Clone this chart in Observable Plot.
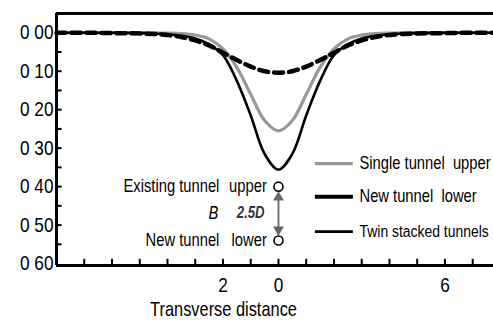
<!DOCTYPE html>
<html>
<head>
<meta charset="utf-8">
<script src="https://cdn.jsdelivr.net/npm/d3@7"></script>
<script src="https://cdn.jsdelivr.net/npm/@observablehq/plot@0.6"></script>
<style>
  html, body { margin: 0; padding: 0; background: #fff; }
  #chart svg { font-family: "Liberation Sans", Arial, sans-serif; overflow: visible; }
</style>
</head>
<body>
<div id="chart"></div>
<script>
// ---- data ----
const xs       = [-8, -7, -6, -5, -4.5, -4, -3.5, -3, -2.5, -2, -1.5, -1, -0.5, 0, 0.5, 1, 1.5, 2, 2.5, 3, 3.5, 4, 4.5, 5, 6, 7, 7.75];
const single   = [0, 0, 0, 0, 0, 0.001, 0.002, 0.006, 0.016, 0.042, 0.090, 0.160, 0.228, 0.255, 0.228, 0.160, 0.090, 0.042, 0.016, 0.006, 0.002, 0.001, 0, 0, 0, 0, 0];
const newLower = [0, 0, 0.001, 0.002, 0.003, 0.006, 0.011, 0.020, 0.033, 0.052, 0.071, 0.088, 0.100, 0.104, 0.100, 0.088, 0.071, 0.052, 0.033, 0.020, 0.011, 0.006, 0.003, 0.002, 0.001, 0, 0];
const twin     = [0, 0, 0, 0.001, 0.002, 0.004, 0.008, 0.015, 0.030, 0.058, 0.125, 0.215, 0.315, 0.356, 0.315, 0.215, 0.125, 0.058, 0.030, 0.015, 0.008, 0.004, 0.002, 0.001, 0, 0, 0];

const seriesNames = ["Single tunnel  upper", "New tunnel  lower", "Twin stacked tunnels"];

const yTickValues = [0, 0.1, 0.2, 0.3, 0.4, 0.5, 0.6];
const yTickLabels = ["0 00", "0 10", "0 20", "0 30", "0 40", "0 50", "0 60"];
const yMinorTicks = [0, 0.05, 0.1, 0.15, 0.2, 0.25, 0.3, 0.35, 0.4, 0.45, 0.5, 0.55];
const xTickValues = [-2, 0, 6];
const xTickLabels = ["2", "0", "6"];
const xMinorTicks = [-7, -6, -5, -4, -3, -2, -1, 0, 1, 2, 3, 4, 5, 6, 7];

// annotation: existing tunnel (upper) and new tunnel (lower) at x = 0
const tunnelNames = ["Existing tunnel", "New tunnel"];
const tunnelTags  = ["upper", "lower"];
const tunnelDepth = [0.40, 0.54];

// ---- build tables ----
const mk = (vals) => xs.map((x, i) => ({x, y: vals[i]}));
const singleData = mk(single), newData = mk(newLower), twinData = mk(twin);

// layout constants (data space of the frame)
const X0 = -8, X1 = 7.75, YTOP = -0.05, YBOT = 0.605;
const legX1 = 1.33, legX2 = 2.70, legTextX = 2.92;
const legY = [0.340, 0.426, 0.517];
const legStyle = [
  {stroke: "#999", strokeWidth: 3.2, dash: null, fs: 18},
  {stroke: "#000", strokeWidth: 4, dash: "11,8", fs: 18},
  {stroke: "#000", strokeWidth: 2.6, dash: null, fs: 17}
];
const legend = seriesNames.map((name, i) => ({name, y: legY[i], ...legStyle[i]}));
const tunnels = tunnelNames.map((n, i) => ({name: n, tag: tunnelTags[i], y: tunnelDepth[i]}));
const arrowHeads = [{y: tunnelDepth[0] + 0.028, rot: 0}, {y: tunnelDepth[1] - 0.028, rot: 180}];

const fontMain = 18;

const chart = Plot.plot({
  width: 493,
  height: 331,
  marginLeft: 56,
  marginRight: 0,
  marginTop: 13,
  marginBottom: 66,
  x: {domain: [X0, X1]},
  y: {domain: [YBOT, YTOP]},
  style: {fontSize: "18px", color: "#000", background: "#fff"},
  marks: [
    // curves
    Plot.line(singleData, {x: "x", y: "y", stroke: "#999", strokeWidth: 3.2, curve: "catmull-rom"}),
    Plot.line(twinData, {x: "x", y: "y", stroke: "#000", strokeWidth: 2.6, curve: "catmull-rom"}),
    Plot.line(newData, {x: "x", y: "y", stroke: "#000", strokeWidth: 4.5, strokeDasharray: "9,6", curve: "catmull-rom"}),

    // frame lines
    Plot.ruleY([YTOP], {stroke: "#000", strokeWidth: 3}),
    Plot.ruleY([YBOT], {stroke: "#000", strokeWidth: 3}),
    Plot.ruleX([X0], {y1: YTOP, y2: YBOT, stroke: "#000", strokeWidth: 3}),

    // inward ticks
    Plot.ruleY(yMinorTicks, {x1: X0, x2: X0 + 0.2, stroke: "#000", strokeWidth: 2}),
    Plot.ruleX(xMinorTicks, {y1: YBOT, y2: YBOT - 0.016, stroke: "#000", strokeWidth: 2}),

    // tick labels
    Plot.axisY({ticks: yTickValues, tickSize: 0, tickPadding: 3, tickFormat: d => yTickLabels[yTickValues.indexOf(d)], fontSize: 21, label: null}),
    Plot.axisX({ticks: xTickValues, tickSize: 0, tickPadding: 12, tickFormat: d => xTickLabels[xTickValues.indexOf(d)], fontSize: 21, label: null}),
    Plot.text(["Transverse distance"], {frameAnchor: "bottom-left", dx: 167, dy: 50, fontSize: 20, textAnchor: "middle"}),

    // annotation
    Plot.link([0], {x1: 0, x2: 0, y1: tunnelDepth[0] + 0.022, y2: tunnelDepth[1] - 0.022, stroke: "#777", strokeWidth: 2}),
    Plot.dot(arrowHeads, {x: 0, y: "y", symbol: "triangle", r: 4, fill: "#666", stroke: "none", rotate: "rot"}),
    Plot.dot(tunnels, {x: 0, y: "y", r: 4.5, stroke: "#000", strokeWidth: 1.6, fill: "#fff"}),
    Plot.text(tunnels, {x: -2.13, y: "y", text: "name", textAnchor: "end", fontSize: fontMain}),
    Plot.text(tunnels, {x: -0.42, y: "y", text: "tag", textAnchor: "end", fontSize: fontMain}),
    Plot.text(["B"], {x: -2.34, y: 0.468, fontSize: fontMain, fontStyle: "italic"}),
    Plot.text(["2.5D"], {x: -1.0, y: 0.468, fontSize: 16, fontStyle: "italic", fontWeight: "bold", fill: "#333"}),

    // legend
    Plot.ruleY(legend, {y: "y", x1: legX1, x2: legX2, stroke: "stroke", strokeWidth: "strokeWidth", strokeDasharray: d => d.dash}),
    Plot.text(legend, {x: legTextX, y: "y", text: "name", textAnchor: "start", fontSize: "fs"})
  ]
});

// condense every text horizontally about its own anchor (narrow typeface look)
chart.querySelectorAll("text").forEach(t => {
  const x = +(t.getAttribute("x") || 0);
  const tr = t.getAttribute("transform") || "";
  t.setAttribute("transform", `${tr} translate(${x},0) scale(0.82,1) translate(${-x},0)`.trim());
});

document.getElementById("chart").append(chart);
</script>
</body>
</html>
